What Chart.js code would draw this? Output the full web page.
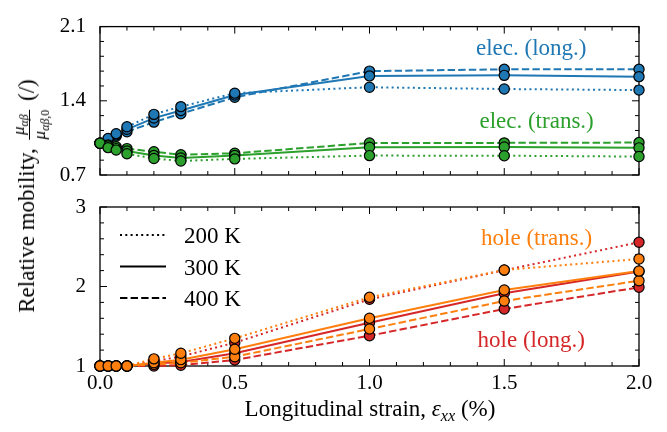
<!DOCTYPE html>
<html><head><meta charset="utf-8">
<script src="https://cdn.jsdelivr.net/npm/chart.js@4.4.1/dist/chart.umd.min.js"></script>
<style>
html,body{margin:0;padding:0;background:#fff;}
#wrap{position:relative;width:667px;height:432px;overflow:hidden;background:#fff;}
canvas{position:absolute;left:0;top:0;}
.lab{position:absolute;white-space:nowrap;font-family:"Liberation Serif",serif;color:#000;font-size:23px;line-height:1.15;}
#xlab{left:370px;top:409px;transform:translate(-50%,-50%);}
#ylab{left:29px;top:196px;transform:translate(-50%,-50%) rotate(-90deg);}
.frac{display:inline-block;vertical-align:middle;text-align:center;font-size:17px;line-height:1;margin:0 3px;}
.nu{display:block;border-bottom:1px solid #000;padding:0 1px 2px;}
.de{display:block;padding-top:1px;}
sub{font-size:70%;line-height:0;}
</style></head><body>
<div id="wrap">
<canvas id="topChart" width="667" height="432"></canvas>
<canvas id="botChart" width="667" height="432"></canvas>
<div id="xlab" class="lab">Longitudinal strain, <i>ε</i><sub><i>xx</i></sub> (%)</div>
<div id="ylab" class="lab">Relative mobility, <span class="frac"><span class="nu"><i>μ</i><sub><i>αβ</i></sub></span><span class="de"><i>μ</i><sub><i>αβ</i>,0</sub></span></span> (/)</div>
</div>
<script>
// ---------- data ----------
const strain = [0, 0.03, 0.06, 0.1, 0.2, 0.3, 0.5, 1.0, 1.5, 2.0];
const lineStartStrain = 0.1;
const temperatures = ['200 K', '300 K', '400 K'];

const elecLong200 = [1, 1.045, 1.090, 1.155, 1.272, 1.345, 1.472, 1.528, 1.511, 1.501];
const elecLong300 = [1, 1.036, 1.078, 1.131, 1.237, 1.308, 1.455, 1.635, 1.640, 1.628];
const elecLong400 = [1, 1.028, 1.066, 1.108, 1.199, 1.278, 1.433, 1.680, 1.697, 1.697];

const elecTrans200 = [1, 0.958, 0.935, 0.900, 0.856, 0.832, 0.852, 0.883, 0.882, 0.874];
const elecTrans300 = [1, 0.973, 0.949, 0.926, 0.885, 0.861, 0.885, 0.962, 0.964, 0.956];
const elecTrans400 = [1, 0.984, 0.967, 0.949, 0.920, 0.891, 0.905, 1.002, 1.003, 1.006];

const holeLong200 = [1, 1, 1, 1.0, 1.06, 1.12, 1.293, 1.839, 2.205, 2.556];
const holeLong300 = [1, 1, 1, 1.0, 1.03, 1.05, 1.160, 1.545, 1.914, 2.190];
const holeLong400 = [1, 1, 1, 1.0, 1.00, 1.01, 1.075, 1.381, 1.717, 1.990];

const holeTrans200 = [1, 1, 1, 1.0, 1.09, 1.16, 1.348, 1.864, 2.208, 2.346];
const holeTrans300 = [1, 1, 1, 1.0, 1.04, 1.08, 1.210, 1.600, 1.956, 2.195];
const holeTrans400 = [1, 1, 1, 1.0, 1.02, 1.04, 1.117, 1.465, 1.818, 2.073];

const xTicks = [0, 0.5, 1.0, 1.5, 2.0];
const topYTicks = [0.7, 1.4, 2.1];
const bottomYTicks = [1, 2, 3];

const topLabels = ['elec. (long.)', 'elec. (trans.)'];
const bottomLabels = ['hole (trans.)', 'hole (long.)'];

// ---------- styles ----------
const C = {blue:'#1f77b4', green:'#2ca02c', orange:'#ff7f0e', red:'#d62728'};
const dashes = [[2, 3.3], [], [7.4, 3.2]];
const FONT = '"Liberation Serif", serif';

function pts(arr){ return strain.map((x, i) => ({x: x, y: arr[i]})); }
function linePts(arr){ return pts(arr).filter(p => p.x >= lineStartStrain - 1e-9); }

function seriesDatasets(arrs, color, pointOrder){
  const out = [];
  arrs.forEach((arr, t) => {
    out.push({data: linePts(arr), borderColor: color, borderWidth: 2, borderDash: dashes[t],
      pointRadius: 0, fill: false, tension: 0, order: 20 + pointOrder, clip: false});
    out.push({data: pts(arr), showLine: false, pointRadius: 5.1, pointHoverRadius: 5.1,
      pointBackgroundColor: color, pointBorderColor: '#000', pointBorderWidth: 1.2,
      order: pointOrder, clip: false});
  });
  return out;
}

const framePlugin = {
  id: 'frame',
  beforeDatasetsDraw(chart, args, o){
    const {ctx, chartArea: a, scales: {x, y}} = chart;
    ctx.save();
    ctx.strokeStyle = '#000';
    ctx.lineWidth = 1.3;
    ctx.strokeRect(a.left, a.top, a.right - a.left, a.bottom - a.top);
    ctx.lineWidth = 1;
    const tick = (px, py, dx, dy) => { ctx.beginPath(); ctx.moveTo(px, py); ctx.lineTo(px + dx, py + dy); ctx.stroke(); };
    for (let k = 0; k <= 20; k++){
      const px = x.getPixelForValue(k * 0.1);
      const L = (k % 5 === 0) ? 7 : 4;
      tick(px, a.bottom, 0, -L); tick(px, a.top, 0, L);
    }
    const n = Math.round((o.max - o.min) / o.minor);
    for (let k = 0; k <= n; k++){
      const py = y.getPixelForValue(o.min + k * o.minor);
      const L = (k % o.every === 0) ? 7 : 4;
      tick(a.left, py, L, 0); tick(a.right, py, -L, 0);
    }
    ctx.restore();
  },
  afterDatasetsDraw(chart, args, o){
    const {ctx, scales: {x, y}} = chart;
    ctx.save();
    ctx.font = '23px ' + FONT;
    ctx.textAlign = 'center';
    ctx.textBaseline = 'alphabetic';
    (o.notes || []).forEach(nt => {
      ctx.fillStyle = nt.color;
      ctx.fillText(nt.text, x.getPixelForValue(nt.x), y.getPixelForValue(nt.y));
    });
    if (o.legend){
      const a = chart.chartArea;
      ctx.textAlign = 'left';
      ctx.fillStyle = '#000';
      ctx.strokeStyle = '#000';
      ctx.lineWidth = 2;
      temperatures.forEach((t, i) => {
        const ly = a.top + 28 + i * 31.5;
        ctx.setLineDash(dashes[i]);
        ctx.beginPath(); ctx.moveTo(a.left + 20, ly); ctx.lineTo(a.left + 66, ly); ctx.stroke();
        ctx.setLineDash([]);
        ctx.fillText(t, a.left + 84, ly + 8);
      });
    }
    ctx.restore();
  }
};

function baseOptions(padding){
  return {
    responsive: false, animation: false, devicePixelRatio: 1, events: [],
    layout: {padding: padding},
    plugins: {legend: {display: false}, tooltip: {enabled: false}},
  };
}

// ---------- top chart ----------
const topOpts = baseOptions({left: 0, right: 28, top: 16, bottom: 257});
topOpts.scales = {
  x: {type: 'linear', min: 0, max: 2, display: false},
  y: {type: 'linear', min: 0.7, max: 2.1,
      afterBuildTicks: s => { s.ticks = topYTicks.map(v => ({value: v})); },
      afterFit: s => { s.width = 100; },
      grid: {display: false, drawTicks: false}, border: {display: false},
      ticks: {padding: 14, color: '#000', font: {family: FONT, size: 21}, callback: v => Number(v).toFixed(1)}}
};
topOpts.plugins.frame = {min: 0.7, max: 2.1, minor: 0.14, every: 5,
  notes: [{text: topLabels[0], x: 1.6, y: 1.83, color: C.blue},
          {text: topLabels[1], x: 1.62, y: 1.14, color: C.green}]};

new Chart(document.getElementById('topChart'), {
  type: 'line',
  data: {datasets: [
    ...seriesDatasets([elecLong200, elecLong300, elecLong400], C.blue, 2),
    ...seriesDatasets([elecTrans200, elecTrans300, elecTrans400], C.green, 1)
  ]},
  options: topOpts,
  plugins: [framePlugin]
});

// ---------- bottom chart ----------
const botOpts = baseOptions({left: 0, right: 28, top: 207, bottom: 0});
botOpts.scales = {
  x: {type: 'linear', min: 0, max: 2,
      afterBuildTicks: s => { s.ticks = xTicks.map(v => ({value: v})); },
      afterFit: s => { s.height = 66; },
      grid: {display: false, drawTicks: false}, border: {display: false},
      ticks: {padding: 5, maxRotation: 0, autoSkip: false, color: '#000', font: {family: FONT, size: 21}, callback: v => Number(v).toFixed(1)}},
  y: {type: 'linear', min: 1, max: 3,
      afterBuildTicks: s => { s.ticks = bottomYTicks.map(v => ({value: v})); },
      afterFit: s => { s.width = 100; },
      grid: {display: false, drawTicks: false}, border: {display: false},
      ticks: {padding: 14, color: '#000', font: {family: FONT, size: 21}, callback: v => String(v)}}
};
botOpts.plugins.frame = {min: 1, max: 3, minor: 0.2, every: 5, legend: true,
  notes: [{text: bottomLabels[0], x: 1.62, y: 2.52, color: C.orange},
          {text: bottomLabels[1], x: 1.60, y: 1.245, color: C.red}]};

new Chart(document.getElementById('botChart'), {
  type: 'line',
  data: {datasets: [
    ...seriesDatasets([holeLong200, holeLong300, holeLong400], C.red, 2),
    ...seriesDatasets([holeTrans200, holeTrans300, holeTrans400], C.orange, 1)
  ]},
  options: botOpts,
  plugins: [framePlugin]
});
</script>
</body></html>
